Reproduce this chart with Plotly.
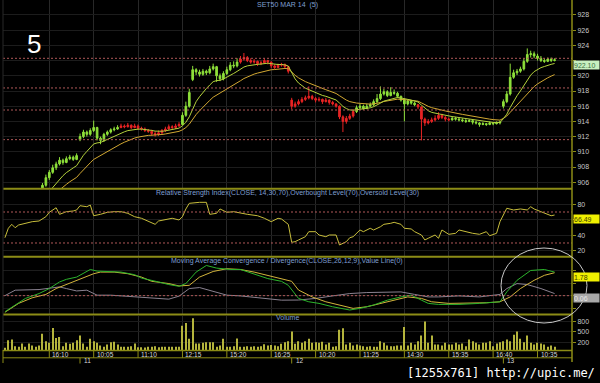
import plotly.graph_objects as go
import pandas as pd

# ---------------- data ----------------
opens = [901.8, 902.0, 902.4, 902.2, 902.7, 903.0, 902.8, 903.3, 903.6, 903.5, 904.0,
         904.4, 905.6, 906.6, 907.3, 907.9, 908.4, 908.9, 908.6, 909.1, 909.3, 909.0,
         911.6, 912.0, 912.6, 912.3, 912.8, 913.2, 911.8, 911.5, 912.3, 912.6, 912.9,
         913.0, 913.2, 913.4, 913.3, 913.5, 913.2, 913.4, 913.1, 913.0, 912.8, 912.7,
         912.4, 912.3, 912.5, 912.8, 913.0, 913.3, 913.2, 913.4, 913.6, 914.8, 916.0,
         919.5, 920.8, 920.5, 920.2, 920.6, 920.4, 920.9, 921.2, 920.0, 919.6, 920.3,
         920.8, 921.4, 921.3, 921.8, 922.2, 922.4, 922.0, 921.8, 921.9, 921.6, 921.7,
         922.0, 921.8, 921.3, 921.1, 921.4, 921.5, 921.2, 916.8, 916.0, 916.3, 916.6,
         916.9, 917.1, 917.3, 917.0, 916.8, 916.9, 916.6, 916.8, 916.5, 916.3, 916.0,
         914.6, 914.0, 914.4, 914.7, 915.3, 915.8, 916.0, 915.7, 916.0, 916.2, 916.6,
         917.0, 917.6, 917.9, 917.4, 917.8, 917.7, 917.3, 916.8, 916.3, 916.7, 916.4,
         916.2, 915.9, 914.3, 913.8, 914.0, 914.2, 914.4, 914.8, 914.5, 914.3, 914.2,
         914.4, 914.3, 914.2, 914.1, 914.0, 914.1, 913.9, 913.8, 913.6, 913.7, 913.6,
         913.8, 913.7, 913.8, 916.0, 916.6, 917.6, 919.8, 920.4, 920.6, 920.9, 921.9,
         922.8, 922.9, 922.6, 922.3, 922.0, 921.9, 922.2, 922.0]
highs = [902.3, 902.6, 902.6, 902.9, 903.2, 903.1, 903.5, 903.8, 903.8, 904.2, 904.6,
         905.9, 907.0, 907.6, 908.3, 908.7, 909.3, 909.1, 909.4, 909.6, 909.5, 909.8,
         912.4, 912.9, 912.8, 913.1, 914.1, 913.3, 912.0, 912.5, 912.8, 913.1, 913.3,
         913.5, 913.7, 913.6, 913.8, 913.6, 913.7, 913.6, 913.3, 913.2, 913.0, 912.9,
         912.7, 912.8, 913.0, 913.3, 913.6, 913.5, 913.7, 913.9, 915.2, 916.6, 918.3,
         921.3, 921.0, 920.8, 920.9, 920.8, 921.3, 921.6, 921.3, 920.3, 920.6, 921.2,
         921.8, 921.9, 922.3, 922.6, 923.0, 922.6, 922.3, 922.2, 922.0, 922.0, 922.3,
         922.1, 921.9, 921.5, 921.6, 921.7, 921.6, 921.3, 917.1, 916.6, 916.9, 917.2,
         917.4, 918.6, 917.5, 917.2, 917.2, 917.0, 917.1, 916.9, 916.7, 916.4, 916.1,
         914.8, 914.7, 915.0, 915.6, 916.1, 916.3, 916.2, 916.3, 916.5, 916.9, 917.6,
         918.6, 918.3, 918.1, 918.5, 918.2, 917.9, 917.4, 917.0, 916.9, 916.8, 916.6,
         916.3, 916.0, 914.5, 914.3, 914.5, 914.8, 915.2, 915.0, 914.7, 914.5, 914.7,
         914.6, 914.5, 914.4, 914.3, 914.3, 914.2, 914.1, 913.9, 913.9, 913.8, 914.0,
         913.9, 914.0, 914.1, 916.9, 918.0, 921.6, 920.8, 920.9, 921.2, 922.3, 923.6,
         923.3, 923.2, 922.9, 922.6, 922.3, 922.4, 922.4, 922.3]
lows = [901.6, 901.9, 902.0, 902.1, 902.5, 902.6, 902.7, 903.2, 903.3, 903.4, 903.9,
        904.3, 905.4, 906.3, 907.1, 907.6, 908.2, 908.3, 908.5, 908.9, 908.8, 908.9,
        911.4, 911.8, 912.0, 912.1, 912.6, 911.5, 911.0, 911.3, 912.1, 912.4, 912.7,
        912.9, 913.1, 913.1, 913.2, 913.0, 913.1, 912.9, 912.8, 912.6, 912.5, 912.1,
        912.0, 912.1, 912.3, 912.6, 912.9, 913.0, 913.0, 913.3, 913.5, 914.6, 915.8,
        919.3, 920.1, 919.9, 920.0, 920.1, 920.2, 920.7, 919.2, 919.3, 919.4, 920.1,
        920.6, 921.0, 921.1, 921.6, 922.0, 921.8, 921.6, 921.6, 921.3, 921.4, 921.6,
        921.5, 921.0, 920.9, 921.0, 921.2, 920.9, 920.3, 915.6, 915.8, 916.1, 916.4,
        916.7, 916.9, 916.8, 916.5, 916.6, 916.3, 916.5, 916.2, 916.1, 915.8, 914.3,
        912.6, 913.7, 914.2, 914.5, 915.1, 915.6, 915.5, 915.6, 915.9, 916.0, 916.4,
        916.8, 917.4, 917.2, 917.3, 917.5, 917.1, 916.6, 914.0, 916.1, 916.2, 916.0,
        915.6, 911.5, 913.4, 913.6, 913.8, 914.0, 914.2, 914.3, 914.0, 914.0, 914.1,
        914.1, 914.0, 913.9, 913.8, 913.9, 913.6, 913.6, 913.3, 913.5, 913.4, 913.5,
        913.5, 913.6, 913.6, 915.7, 916.4, 917.4, 919.6, 920.1, 920.4, 920.7, 921.7,
        922.4, 922.3, 922.0, 921.8, 921.7, 921.8, 921.8, 921.9]
closes = [902.0, 902.4, 902.2, 902.7, 903.0, 902.8, 903.3, 903.6, 903.5, 904.0, 904.4,
          905.6, 906.6, 907.3, 907.9, 908.4, 908.9, 908.6, 909.1, 909.3, 909.0, 909.5,
          912.0, 912.6, 912.3, 912.8, 913.2, 911.8, 911.5, 912.3, 912.6, 912.9, 913.0,
          913.2, 913.4, 913.3, 913.5, 913.2, 913.4, 913.1, 913.0, 912.8, 912.7, 912.4,
          912.3, 912.5, 912.8, 913.0, 913.3, 913.2, 913.4, 913.6, 914.8, 916.0, 917.8,
          920.8, 920.5, 920.2, 920.6, 920.4, 920.9, 921.2, 920.0, 919.6, 920.3, 920.8,
          921.4, 921.3, 921.8, 922.2, 922.4, 922.0, 921.8, 921.9, 921.6, 921.7, 922.0,
          921.8, 921.3, 921.1, 921.4, 921.5, 921.2, 920.6, 916.0, 916.3, 916.6, 916.9,
          917.1, 917.3, 917.0, 916.8, 916.9, 916.6, 916.8, 916.5, 916.3, 916.0, 914.6,
          914.0, 914.4, 914.7, 915.3, 915.8, 916.0, 915.7, 916.0, 916.2, 916.6, 917.0,
          917.6, 917.9, 917.4, 917.8, 917.7, 917.3, 916.8, 916.3, 916.7, 916.4, 916.2,
          915.9, 914.3, 913.8, 914.0, 914.2, 914.4, 914.8, 914.5, 914.3, 914.2, 914.4,
          914.3, 914.2, 914.1, 914.0, 914.1, 913.9, 913.8, 913.6, 913.7, 913.6, 913.8,
          913.7, 913.8, 913.9, 916.6, 917.6, 919.8, 920.4, 920.6, 920.9, 921.9, 922.8,
          922.9, 922.6, 922.3, 922.0, 921.9, 922.2, 922.0, 922.1]
volumes = [63, 270, 289, 106, 90, 180, 90, 180, 125, 90, 125,
           452, 243, 199, 608, 335, 362, 106, 199, 172, 199, 270,
           398, 180, 90, 308, 243, 199, 125, 90, 153, 215, 226,
           153, 90, 90, 90, 106, 180, 79, 79, 71, 90, 90,
           106, 79, 90, 90, 90, 90, 90, 90, 670, 744, 308,
           880, 180, 180, 199, 215, 215, 215, 90, 125, 308, 90,
           90, 106, 316, 90, 90, 106, 90, 106, 90, 106, 161,
           125, 140, 125, 106, 172, 215, 243, 515, 172, 243, 199,
           243, 308, 199, 215, 199, 226, 153, 199, 90, 106, 560,
           600, 153, 199, 125, 153, 125, 106, 90, 106, 90, 90,
           243, 199, 125, 106, 106, 125, 125, 640, 125, 199, 153,
           243, 398, 787, 199, 398, 153, 153, 125, 199, 153, 153,
           199, 153, 180, 106, 289, 243, 199, 153, 199, 199, 243,
           106, 180, 215, 243, 289, 243, 425, 515, 308, 215, 398,
           199, 153, 199, 180, 153, 90, 125, 90]

# candle colouring regimes (first bar index of each regime)
trend_starts = [0, 34, 52, 69, 103, 121, 131]
trend_dirs = ["up", "down", "up", "down", "up", "down", "up"]

# red dotted reference levels on the price pane
price_levels = [922.3, 918.4, 915.5, 911.6]

rsi_idx = [0, 1, 2, 3, 4, 6, 8, 10, 12, 13, 15, 16, 18, 20, 21, 22, 24, 25, 26, 28,
           30, 32, 34, 36, 38, 40, 42, 44, 45, 47, 49, 51, 52, 53, 54, 57, 59, 60, 62, 63,
           65, 67, 69, 71, 74, 76, 78, 80, 81, 83, 84, 85, 86, 88, 89, 91, 92, 94, 95, 97,
           98, 100, 101, 102, 104, 105, 107, 108, 110, 111, 113, 114, 116, 117, 119, 120,
           122, 123, 124, 126, 127, 128, 130, 132, 133, 135, 137, 139, 141, 142, 143, 144,
           145, 147, 149, 151, 153, 154, 155, 157, 158, 160, 161]
rsi_val = [36.8, 49.0, 54.1, 49.7, 53.2, 55.4, 57.5, 58.4, 63.9, 69.6, 75.5, 67.0, 70.4,
           71.3, 72.6, 78.1, 76.8, 79.0, 65.2, 67.0, 69.6, 70.4, 70.4, 68.3, 63.9, 61.9,
           57.5, 54.1, 58.4, 59.7, 61.9, 59.7, 63.9, 73.9, 81.2, 82.5, 82.5, 67.0, 68.3,
           73.9, 69.6, 70.4, 68.3, 67.0, 65.2, 61.9, 57.5, 61.9, 61.0, 54.1, 30.9, 31.7,
           33.9, 38.1, 44.6, 44.6, 40.3, 38.1, 40.3, 40.3, 27.4, 31.7, 36.8, 38.1, 46.8,
           44.6, 49.0, 46.8, 51.0, 54.1, 55.4, 56.7, 54.1, 49.0, 48.1, 44.6, 40.3, 33.9,
           36.1, 40.3, 36.1, 46.8, 41.2, 42.5, 46.8, 44.6, 42.5, 41.2, 44.6, 39.4, 41.2,
           42.5, 57.5, 74.8, 72.6, 73.9, 72.6, 76.8, 73.9, 70.4, 69.6, 65.2, 66.1]
rsi_levels = [70, 30]

macd_idx = [0, 3, 6, 10, 13, 16, 18, 21, 25, 27, 31, 34, 38, 40, 45, 48, 51, 53, 56, 59,
            62, 66, 69, 73, 77, 81, 83, 86, 89, 92, 96, 101, 104, 108, 112, 116, 119, 122,
            124, 127, 133, 139, 143, 145, 147, 150, 154, 158, 161]
macd_val = [-1.29, -0.75, -0.22, 0.17, 0.57, 1.10, 1.31, 1.49, 2.10, 1.97, 1.89, 1.89,
            1.68, 1.41, 1.10, 0.89, 0.75, 0.97, 1.89, 2.42, 2.21, 2.10, 2.10, 1.76, 1.37,
            1.15, 0.83, -0.22, -0.49, -0.62, -0.89, -1.15, -1.02, -0.75, -0.36, -0.10,
            0.04, -0.36, -0.62, -0.70, -0.70, -0.62, -0.54, -0.49, 0.30, 1.23, 2.02, 2.10, 1.89]
sig_idx = [0, 4, 8, 12, 15, 18, 22, 26, 28, 32, 36, 40, 43, 48, 51, 54, 57, 61, 65, 69,
           73, 77, 81, 84, 86, 90, 94, 98, 102, 106, 110, 114, 118, 122, 125, 130, 135, 141,
           145, 148, 151, 155, 158, 161]
sig_val = [-1.33, -0.62, -0.17, 0.10, 0.57, 0.89, 1.37, 1.76, 1.89, 1.89, 1.76, 1.49,
           1.15, 0.97, 0.78, 0.83, 1.49, 1.94, 2.16, 2.10, 1.89, 1.63, 1.37, 1.15, 0.45,
           -0.10, -0.49, -0.75, -1.02, -0.89, -0.62, -0.36, -0.10, -0.22, -0.49, -0.62,
           -0.62, -0.57, -0.49, -0.10, 0.57, 1.23, 1.63, 1.84]
diff_idx = [0, 1, 3, 10, 13, 16, 18, 21, 24, 27, 31, 38, 42, 48, 51, 54, 57, 60, 65, 69,
            77, 81, 86, 91, 96, 101, 106, 111, 116, 120, 124, 127, 133, 139, 145, 147, 150,
            153, 157, 161]
diff_val = [0.0, 0.17, 0.44, 0.49, 0.57, 0.70, 0.57, 0.38, 0.44, 0.04, 0.04, -0.10, -0.22,
            -0.28, -0.04, 0.57, 0.65, 0.44, 0.04, -0.02, -0.22, -0.36, -0.35, -0.22, -0.02,
            0.17, 0.25, 0.30, 0.30, 0.10, -0.10, -0.10, -0.02, -0.10, 0.10, 0.57, 0.97,
            0.89, 0.57, 0.17]

price_ticks = [906, 908, 910, 912, 914, 916, 918, 920, 922, 924, 926, 928]
price_tick_text = ["906", "908", "910", "912", "914", "916", "918", "920", "", "924", "926", "928"]
rsi_ticks = [20, 40, 60, 80]
rsi_tick_text = ["20", "40", "", "80"]
vol_ticks = [200, 500, 800]
tick_idx = [13, 26, 39, 52, 65, 78, 91, 104, 117, 130, 143, 156]
tick_text = ["16:10", "10:05", "11:10", "12:15", "15:20", "16:25",
             "10:20", "11:25", "14:30", "15:35", "16:40", "10:35"]
day_idx = [22, 84, 146]
day_text = ["11", "12", "13"]

# ---------------- styling ----------------
BG = "#000000"
OLIVE = "#8c8c16"
GRID = "#282828"
LBL = "#c8c8c8"
TITLE = "#7f9fd0"
UPC = "#8ee03a"
DNC = "#e82424"
FONT = "Liberation Sans"

W, H = 600, 383
ML, MR, MT, MB = 3, 28, 0, 33
PH = H - MT - MB
PW = W - ML - MR


def py(p):
    return (PH - p) / PH


def px(p):
    return (p - ML) / PW


n = len(closes)
idx = list(range(n))
fig = go.Figure()

bounds = trend_starts + [n]
for k, d in enumerate(trend_dirs):
    s, e = bounds[k], bounds[k + 1]
    c = UPC if d == "up" else DNC
    fig.add_trace(go.Candlestick(
        x=idx[s:e], open=opens[s:e], high=highs[s:e], low=lows[s:e], close=closes[s:e],
        increasing=dict(line=dict(color=c, width=1), fillcolor=c),
        decreasing=dict(line=dict(color=c, width=1), fillcolor=c),
        whiskerwidth=0, showlegend=False, hoverinfo="skip", xaxis="x", yaxis="y"))

cs = pd.Series(closes)
ma_fast = cs.ewm(span=10, adjust=False).mean()
ma_slow = cs.ewm(span=20, adjust=False).mean()
fig.add_trace(go.Scatter(x=idx, y=ma_slow, mode="lines", line=dict(color="#d2a832", width=1),
                         showlegend=False, hoverinfo="skip", xaxis="x", yaxis="y"))
fig.add_trace(go.Scatter(x=idx, y=ma_fast, mode="lines", line=dict(color="#b4d23c", width=1),
                         showlegend=False, hoverinfo="skip", xaxis="x", yaxis="y"))

fig.add_trace(go.Scatter(x=rsi_idx, y=rsi_val, mode="lines", line=dict(color="#c8be3c", width=1),
                         showlegend=False, hoverinfo="skip", xaxis="x2", yaxis="y2"))

fig.add_trace(go.Scatter(x=diff_idx, y=diff_val, mode="lines", line=dict(color="#8a8290", width=1),
                         showlegend=False, hoverinfo="skip", xaxis="x3", yaxis="y3"))
fig.add_trace(go.Scatter(x=sig_idx, y=sig_val, mode="lines", line=dict(color="#d2b43c", width=1),
                         showlegend=False, hoverinfo="skip", xaxis="x3", yaxis="y3"))
fig.add_trace(go.Scatter(x=macd_idx, y=macd_val, mode="lines", line=dict(color="#2cb42c", width=1),
                         showlegend=False, hoverinfo="skip", xaxis="x3", yaxis="y3"))

fig.add_trace(go.Bar(x=idx, y=volumes, marker=dict(color="#b4b43c", line=dict(width=0)), width=0.32,
                     showlegend=False, hoverinfo="skip", xaxis="x4", yaxis="y4"))

xr = [-0.56, 166.1]
xcommon = dict(range=xr, tickvals=tick_idx, showgrid=True, gridcolor=GRID, gridwidth=1,
               showticklabels=False, ticks="", zeroline=False, showline=False, fixedrange=True,
               domain=[0, 1])
ycommon = dict(side="right", ticks="outside", ticklen=3, tickcolor=OLIVE, zeroline=False,
               showline=False, showgrid=True, gridcolor="#1c1c1c", fixedrange=True,
               tickfont=dict(family=FONT, size=7, color=LBL))

layout = dict(
    width=W, height=H, margin=dict(l=ML, r=MR, t=MT, b=MB), autosize=False,
    paper_bgcolor=BG, plot_bgcolor=BG, showlegend=False, hovermode=False,
    xaxis=dict(**xcommon, anchor="y", rangeslider=dict(visible=False)),
    xaxis2=dict(**xcommon, anchor="y2"),
    xaxis3=dict(**xcommon, anchor="y3"),
    xaxis4=dict(**xcommon, anchor="y4"),
    yaxis=dict(**ycommon, domain=[py(188), py(0)], range=[905.24, 929.97], tickvals=price_ticks,
               ticktext=price_tick_text),
    yaxis2=dict(**ycommon, domain=[py(256), py(190)], range=[13.2, 98.4], tickvals=rsi_ticks,
                ticktext=rsi_tick_text),
    yaxis3=dict(**ycommon, domain=[py(314), py(257.5)], range=[-1.47, 3.06], tickvals=[-1, 0, 1, 2],
                showticklabels=False),
    yaxis4=dict(**ycommon, domain=[py(350), py(315.5)], range=[0, 955], tickvals=vol_ticks),
)
fig.update_layout(**layout)

shapes = []
dot = dict(color="#b05858", width=1, dash="2px,2px")
for lv in price_levels:
    shapes.append(dict(type="line", xref="x domain", yref="y", x0=0, x1=1, y0=lv, y1=lv, line=dot))
for lv in rsi_levels:
    shapes.append(dict(type="line", xref="x2 domain", yref="y2", x0=0, x1=1, y0=lv, y1=lv, line=dot))
shapes.append(dict(type="line", xref="x3 domain", yref="y3", x0=0, x1=1, y0=0, y1=0, line=dot))

for yy, w in [(188.8, 2), (256.8, 2), (314.6, 2), (350.6, 1.5), (357.8, 1)]:
    shapes.append(dict(type="line", xref="paper", yref="paper", x0=0, x1=1, y0=py(yy), y1=py(yy),
                       line=dict(color=OLIVE, width=w)))
shapes.append(dict(type="line", xref="paper", yref="paper", x0=1, x1=1, y0=py(0), y1=py(362),
                   line=dict(color=OLIVE, width=1.5)))
shapes.append(dict(type="line", xref="paper", yref="paper", x0=0, x1=0, y0=py(0), y1=py(350),
                   line=dict(color=GRID, width=1)))
shapes.append(dict(type="line", xref="paper", yref="paper", x0=0, x1=0, y0=py(350), y1=py(363),
                   line=dict(color=OLIVE, width=1)))
for t in tick_idx:
    shapes.append(dict(type="line", xref="x4", yref="paper", x0=t, x1=t, y0=py(350.6), y1=py(357.8),
                       line=dict(color=OLIVE, width=1)))
for d in day_idx:
    shapes.append(dict(type="line", xref="x4", yref="paper", x0=d, x1=d, y0=py(357.8), y1=py(363.5),
                       line=dict(color=OLIVE, width=1)))
shapes.append(dict(type="circle", xref="paper", yref="paper", x0=px(501), x1=px(587),
                   y0=py(323), y1=py(248), line=dict(color="#c8c8c8", width=1)))
fig.update_layout(shapes=shapes)

ann = []
for t, s in zip(tick_idx, tick_text):
    ann.append(dict(x=t, xref="x4", y=py(354.2), yref="paper", text=s, showarrow=False,
                    xanchor="left", yanchor="middle", xshift=1,
                    font=dict(family=FONT, size=6.5, color="#d8d8d8")))
for d, s in zip(day_idx, day_text):
    ann.append(dict(x=d, xref="x4", y=py(360.8), yref="paper", text=s, showarrow=False,
                    xanchor="left", yanchor="middle", xshift=2,
                    font=dict(family=FONT, size=6.5, color="#d8d8d8")))


def label(x, y, text, size=7, color=TITLE, xanchor="center", family=FONT):
    ann.append(dict(x=px(x), y=py(y), xref="paper", yref="paper", text=text, showarrow=False,
                    xanchor=xanchor, yanchor="middle", font=dict(family=family, size=size, color=color)))


label(287, 5, "SET50 MAR 14  (5)")
label(34, 44, "5", size=26, color="#ffffff")
label(287.5, 192.8, "Relative Strength Index(CLOSE, 14,30,70),Overbought Level(70),Oversold Level(30)")
label(287, 261, "Moving Average Convergence / Divergence(CLOSE,26,12,9),Value Line(0)")
label(287, 317.5, "Volume")
label(597, 373, "[1255x761] http://upic.me/", size=12, color="#ffffff", xanchor="right",
      family="DejaVu Sans Mono")


def box(y, text, bg, fg):
    ann.append(dict(x=1, y=py(y), xref="paper", yref="paper", text=text, showarrow=False,
                    xanchor="left", yanchor="middle", xshift=1, bgcolor=bg, borderpad=0,
                    width=25, height=8, align="left",
                    font=dict(family=FONT, size=7, color=fg)))


box(64.5, "922.10", "#c8f0c0", "#3c7040")
box(218.5, "66.49", "#f0f000", "#404000")
box(276.5, "1.78", "#f0f000", "#404000")
box(298, "0.06", "#a8a8a8", "#e8e8e8")
fig.update_layout(annotations=ann)

fig.write_html("out.html", include_plotlyjs=True, config={"displayModeBar": False},
               post_script="document.body.style.margin='0';document.body.style.padding='0';"
                           "document.body.style.background='#000';")
